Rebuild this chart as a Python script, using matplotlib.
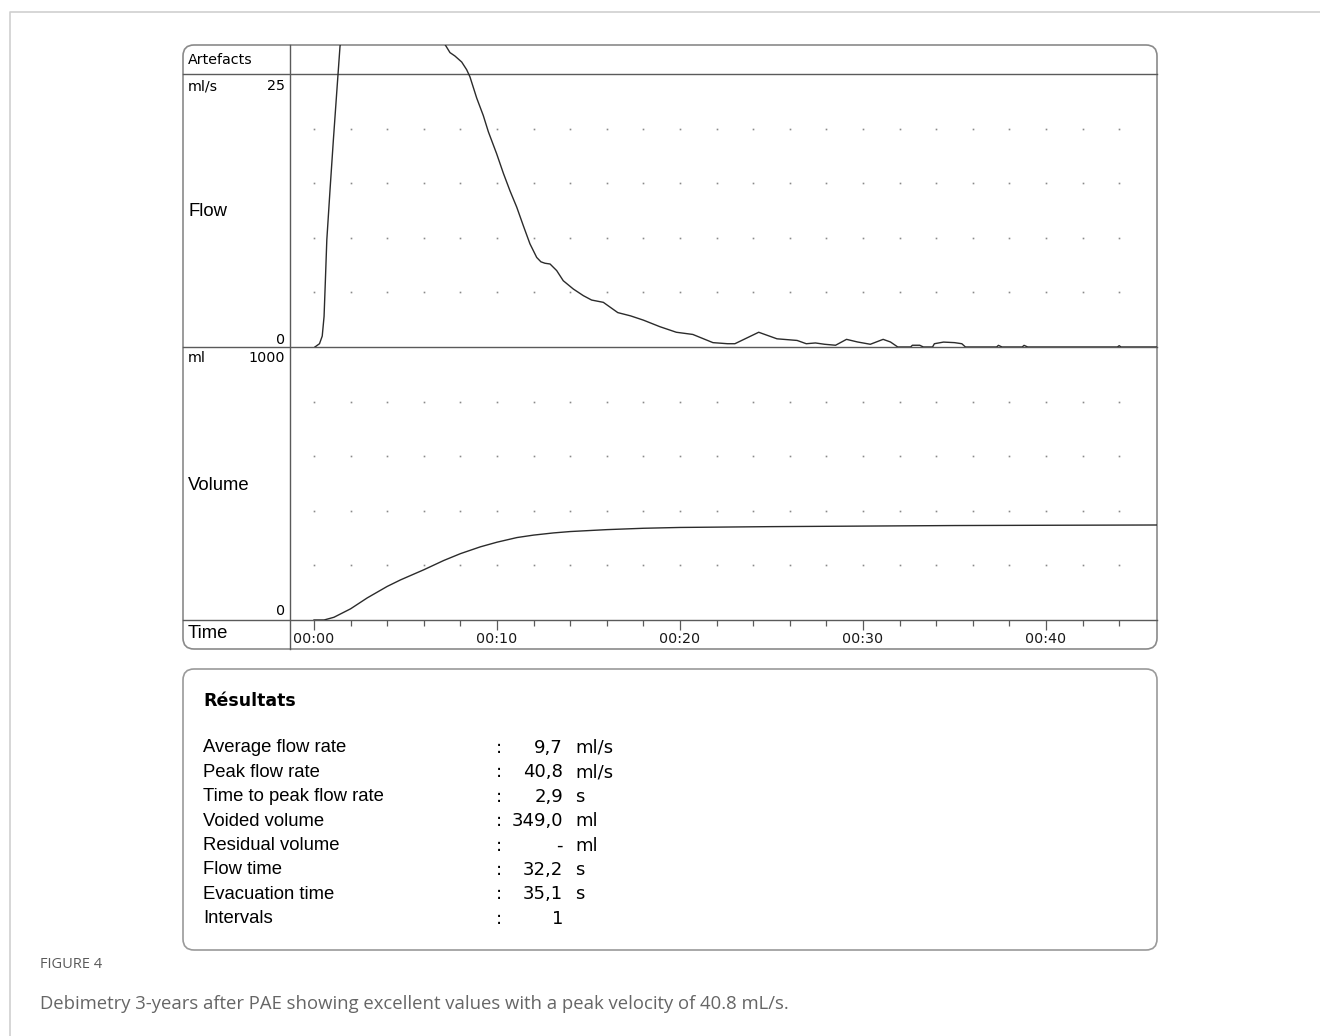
import numpy as np
import matplotlib
matplotlib.use("Agg")
import matplotlib.pyplot as plt
from matplotlib.patches import FancyBboxPatch

# -------------------------------------------------------------------- #
# Data read off the uroflowmetry print-out
# -------------------------------------------------------------------- #
flow_t = [0.05, 0.3, 0.45, 0.55, 0.62, 0.7, 0.88, 1.06, 1.25, 1.42, 2.0,
          2.9, 3.8, 5.0, 6.2, 7.0, 7.16, 7.43, 7.7, 8.07, 8.34, 8.52, 8.89,
          9.25, 9.53, 9.98, 10.35, 10.71, 11.08, 11.44, 11.8, 12.17, 12.4,
          12.62, 12.9, 13.26, 13.62, 14.17, 14.72, 15.17, 15.81, 16.6,
          17.3, 18.0, 18.9, 19.8, 20.7, 21.8, 22.6, 23.0, 24.3, 25.3, 26.4,
          26.9, 27.4, 27.9, 28.5, 29.1, 29.7, 30.4, 31.1, 31.5, 31.9, 32.6,
          32.7, 33.1, 33.3, 33.8, 33.9, 34.4, 35.0, 35.4, 35.6, 37.3, 37.4,
          37.6, 38.7, 38.8, 39.0, 43.9, 44.0, 44.1, 46.1]
flow_ml_s = [0, 0.3, 1.0, 2.8, 6.0, 9.8, 14.5, 19.0, 23.5, 27.5, 35.5,
             40.8, 39.5, 36.5, 31.5, 28.3, 27.7, 26.96, 26.65, 26.1, 25.4,
             24.75, 22.8, 21.2, 19.7, 17.7, 15.9, 14.3, 12.8, 11.1, 9.45, 8.2,
             7.8, 7.67, 7.6, 7.0, 6.07, 5.31, 4.7, 4.3, 4.09, 3.15,
             2.85, 2.46, 1.86, 1.35, 1.15, 0.4, 0.3, 0.3, 1.35, 0.75, 0.6,
             0.3, 0.37, 0.25, 0.16, 0.7, 0.46, 0.25, 0.7, 0.46, 0, 0,
             0.16, 0.16, 0, 0, 0.3, 0.45, 0.4, 0.3, 0, 0, 0.15,
             0, 0, 0.15, 0, 0, 0.12, 0, 0]

vol_t = [0, 0.55, 1.09, 2.0, 2.91, 4.0, 4.73, 6.0, 7.09, 8.0, 9.09, 10.0,
         11.09, 12.0, 13.09, 14.0, 16.0, 18.0, 20.0, 25.0, 30.0, 35.0, 40.0,
         46.1]
vol_ml = [0, 0, 10, 41, 81, 123, 147, 184, 218, 243, 268, 285,
          302, 311, 319, 324, 331, 336, 339, 342, 344, 346, 347, 348]

grid_t = list(range(0, 46, 2))
flow_grid = [5, 10, 15, 20]
vol_grid = [200, 400, 600, 800]

major_ticks = [0, 10, 20, 30, 40]
minor_ticks = list(range(0, 46, 2))
tick_labels = ["00:00", "00:10", "00:20", "00:30", "00:40"]

result_labels = ["Average flow rate", "Peak flow rate", "Time to peak flow rate",
                 "Voided volume", "Residual volume", "Flow time",
                 "Evacuation time", "Intervals"]
result_values = ["9,7", "40,8", "2,9", "349,0", "-", "32,2", "35,1", "1"]
result_units = ["ml/s", "ml/s", "s", "ml", "ml", "s", "s", ""]

# -------------------------------------------------------------------- #
# Layout (pixels)
# -------------------------------------------------------------------- #
W, H = 1320, 1036
x_left, x_right = 290, 1157
t0_px, px_per_s = 314, 18.3
t_lim = ((x_left - t0_px) / px_per_s, (x_right - t0_px) / px_per_s)

line_col = "#2b2b2b"
frame_col = "#5a5a5a"
small_font = "DejaVu Sans"
big_font = "Liberation Sans"

fig = plt.figure(figsize=(W / 100, H / 100), dpi=100)
fig.patch.set_facecolor("white")


def px_axes(x0, y0, x1, y1, z=1):
    ax = fig.add_axes([x0 / W, 1 - y1 / H, (x1 - x0) / W, (y1 - y0) / H])
    ax.set_zorder(z)
    ax.patch.set_alpha(0)
    return ax


# background axes in pixel units for frames and labels
bg = px_axes(0, 0, W, H, z=0)
bg.set_xlim(0, W)
bg.set_ylim(H, 0)
bg.axis("off")

# page frame
bg.plot([9.5, 9.5, W], [H, 11.5, 11.5], color="#cfcfcf", lw=1.2)

# outer chart box
bg.add_patch(FancyBboxPatch((183, 45), 1157 - 183, 649 - 45,
                            boxstyle="round,pad=0,rounding_size=11",
                            fc="none", ec="#8a8a8a", lw=1.2))
for yy in [74, 347, 620]:
    bg.plot([183, 1157], [yy, yy], color=frame_col, lw=1.0)
bg.plot([290, 290], [45, 649], color=frame_col, lw=1.0)

# left label column
bg.text(188, 60, "Artefacts", fontsize=10.3, family=small_font, va="center")
bg.text(188, 86, "ml/s", fontsize=10.3, family=small_font, va="center")
bg.text(285, 86, "25", fontsize=10.3, family=small_font, va="center", ha="right")
bg.text(188, 212, "Flow", fontsize=13.3, family=big_font, va="center")
bg.text(285, 340, "0", fontsize=10.3, family=small_font, va="center", ha="right")
bg.text(188, 358, "ml", fontsize=10.3, family=small_font, va="center")
bg.text(285, 358, "1000", fontsize=10.3, family=small_font, va="center", ha="right")
bg.text(188, 485, "Volume", fontsize=13.3, family=big_font, va="center")
bg.text(285, 611, "0", fontsize=10.3, family=small_font, va="center", ha="right")
bg.text(188, 634, "Time", fontsize=13.3, family=big_font, va="center")

# -------------------------------------------------------------------- #
# Flow panel (extends into the Artefacts row, as on the print-out)
# -------------------------------------------------------------------- #
ax_flow = px_axes(x_left, 45, x_right, 347)
ax_flow.set_xlim(*t_lim)
ax_flow.set_ylim(0, 25 * (347 - 45) / (347 - 74))
ax_flow.axis("off")
gx, gy = np.meshgrid(grid_t, flow_grid)
ax_flow.plot(gx.ravel(), gy.ravel(), ls="none", marker="s", ms=1.2,
             color="#8a8a8a", mec="none")
ax_flow.plot(flow_t, flow_ml_s, color=line_col, lw=1.0)

# Volume panel
ax_vol = px_axes(x_left, 347, x_right, 620)
ax_vol.set_xlim(*t_lim)
ax_vol.set_ylim(0, 1000)
ax_vol.axis("off")
gx, gy = np.meshgrid(grid_t, vol_grid)
ax_vol.plot(gx.ravel(), gy.ravel(), ls="none", marker="s", ms=1.2,
            color="#8a8a8a", mec="none")
ax_vol.plot(vol_t, vol_ml, color=line_col, lw=1.0)

# Time row
ax_time = px_axes(x_left, 620, x_right, 649)
ax_time.set_xlim(*t_lim)
ax_time.set_ylim(0, 1)
for s in ax_time.spines.values():
    s.set_visible(False)
ax_time.set_yticks([])
ax_time.set_xticks(major_ticks)
ax_time.set_xticks(minor_ticks, minor=True)
ax_time.tick_params(axis="x", which="both", direction="in", top=True,
                    bottom=False, labelbottom=False, labeltop=False,
                    color=frame_col, width=0.9)
ax_time.tick_params(axis="x", which="major", length=7)
ax_time.tick_params(axis="x", which="minor", length=4)
for t, lab in zip(major_ticks, tick_labels):
    ax_time.text(t, 0.33, lab, ha="center", va="center", fontsize=10.3,
                 family=small_font, color="#1a1a1a")

# -------------------------------------------------------------------- #
# Results box
# -------------------------------------------------------------------- #
bg.add_patch(FancyBboxPatch((183, 669), 1157 - 183, 950 - 669,
                            boxstyle="round,pad=0,rounding_size=11",
                            fc="none", ec="#9a9a9a", lw=1.2))
bg.text(203, 701, "Résultats", fontsize=12.5, family=small_font,
        weight="bold", va="center")
row_y = 748
for lab, val, unit in zip(result_labels, result_values, result_units):
    bg.text(203, row_y, lab, fontsize=13.3, family=big_font, va="center")
    bg.text(499, row_y, ":", fontsize=13, family=small_font, va="center",
            ha="center")
    bg.text(563, row_y, val, fontsize=13, family=small_font, va="center",
            ha="right")
    bg.text(575, row_y, unit, fontsize=13, family=small_font, va="center")
    row_y += 24.4

# caption
bg.text(40, 965, "FIGURE 4", fontsize=10.5, family="Open Sans", color="#5a5a5a",
        va="center")
bg.text(40, 1004, "Debimetry 3-years after PAE showing excellent values with "
        "a peak velocity of 40.8 mL/s.", fontsize=13.3, family="Open Sans",
        color="#666666", va="center")

fig.savefig("out.png", dpi=100)
